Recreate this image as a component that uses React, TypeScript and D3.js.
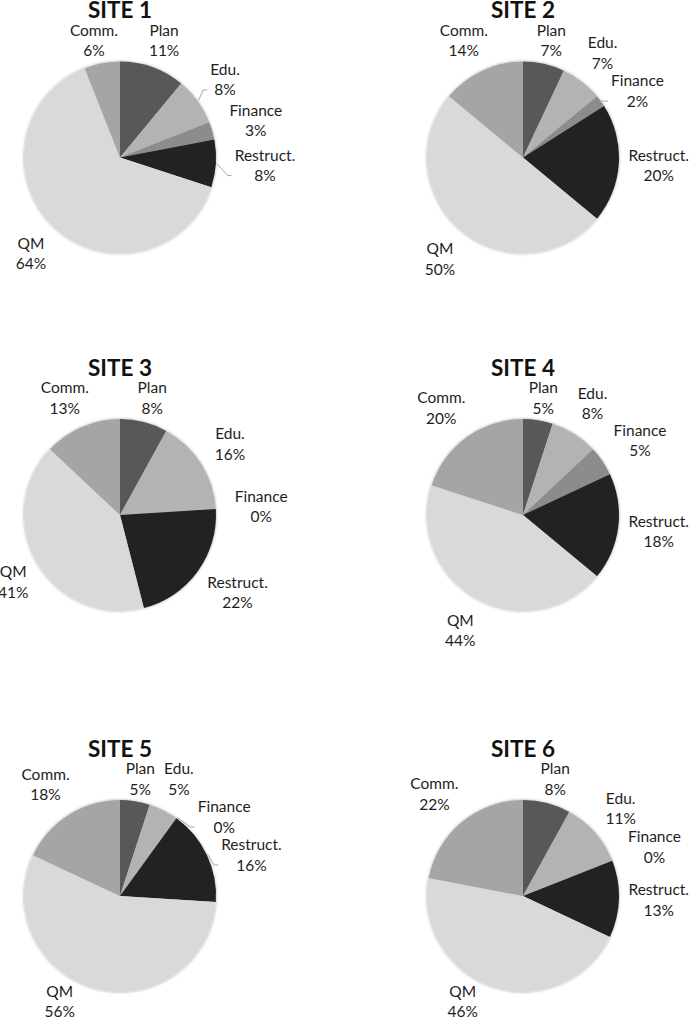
import * as d3 from "d3";

// categories in clockwise order starting at 12 o'clock
const categories = ["Plan", "Edu.", "Finance", "Restruct.", "QM", "Comm."];
const siteTitles = ["SITE 1", "SITE 2", "SITE 3", "SITE 4", "SITE 5", "SITE 6"];

const site1Values = [11, 8, 3, 8, 64, 6];
const site2Values = [7, 7, 2, 20, 50, 14];
const site3Values = [8, 16, 0, 22, 41, 13];
const site4Values = [5, 8, 5, 18, 44, 20];
const site5Values = [5, 5, 0, 16, 56, 18];
const site6Values = [8, 11, 0, 13, 46, 22];
const siteValues = [site1Values, site2Values, site3Values, site4Values, site5Values, site6Values];

// labels that Excel joined to their slice with a leader line
const leaderLabels = [["Edu.", "Restruct."], ["Finance"], [], [], ["Finance", "Restruct."], []];

const colors = ["#595959", "#b3b3b3", "#8c8c8c", "#212121", "#d9d9d9", "#a5a5a5"];

const W = 690;
const H = 1020;
const R = 96;
const GAP = 18;
const colX = [120, 523];
const rowY = [157.5, 515, 896];
const labelSize = 15.5;
const labelFont = `${labelSize}px Lato`;

const ctx = document.createElement("canvas").getContext("2d");
function textWidth(s: string) {
  if (!ctx) return s.length * 7.5;
  ctx.font = labelFont;
  return ctx.measureText(s).width;
}

type Box = { name: string; pct: string; x: number; y: number; w: number; h: number; ang: number };

function layoutLabels(arcs: d3.PieArcDatum<number>[], values: number[], cx0: number, cy0: number) {
  const placed: Box[] = [];
  arcs.forEach((a, i) => {
    const name = categories[i];
    const pct = `${values[i]}%`;
    const w = Math.max(textWidth(name), textWidth(pct)) + 2;
    const h = 36;
    const ang = (a.startAngle + a.endAngle) / 2;
    const sx = Math.sin(ang);
    const sy = -Math.cos(ang);
    let x = (R + GAP) * sx + (sx * w) / 2;
    let y = (R + GAP) * sy + (sy * h) / 2;

    // stay below the title
    y = Math.max(y, -135 + h / 2);

    // push away from labels already placed, in the clockwise direction
    for (let k = 0; k < 3; k++) {
      for (const p of placed) {
        const ox = Math.abs(x - p.x) < (w + p.w) / 2 + 2;
        const oy = Math.abs(y - p.y) < (h + p.h) / 2 + 1;
        if (ox && oy) {
          if (sx >= 0) y = p.y + (p.h + h) / 2 + 2;
          else y = p.y - (p.h + h) / 2 - 2;
        }
      }
    }

    // keep inside the page
    y = Math.min(y, H - cy0 - 18.5);
    x = Math.min(x, W - cx0 - w / 2);

    // keep clear of the pie
    const minD = R + 2;
    const nearY = y - h / 2 > 0 ? y - h / 2 : y + h / 2 < 0 ? y + h / 2 : 0;
    if (Math.abs(nearY) < minD) {
      const need = Math.sqrt(minD * minD - nearY * nearY);
      if (sx >= 0 && x - w / 2 < need) x = need + w / 2;
      if (sx < 0 && x + w / 2 > -need) x = -need - w / 2;
    }
    x = Math.max(x, -cx0 + w / 2 - 3);
    placed.push({ name, pct, x, y, w, h, ang });
  });
  return placed;
}

function SitePie({ index }: { index: number }) {
  const values = siteValues[index];
  const cx = colX[index % 2];
  const cy = rowY[Math.floor(index / 2)];
  const pie = d3.pie<number>().sort(null).value((d) => d);
  const arcs = pie(values);
  const arc = d3.arc<d3.PieArcDatum<number>>().innerRadius(0).outerRadius(R);
  const labels = layoutLabels(arcs, values, cx, cy);

  return (
    <g transform={`translate(${cx},${cy})`}>
      <text
        x={0}
        y={-139.5}
        textAnchor="middle"
        fontFamily="Lato"
        fontWeight={700}
        fontSize={22.5}
        fill="#111"
      >
        {siteTitles[index]}
      </text>
      <g filter="url(#pieShadow)">
        {arcs.map((a, i) => (
          <path key={i} d={arc(a) || ""} fill={colors[i]} />
        ))}
      </g>
      {labels.map((l) => {
        const leader = leaderLabels[index].includes(l.name);
        let leaderPath = "";
        if (leader) {
          const ex = (R + 1) * Math.sin(l.ang);
          const ey = -(R + 1) * Math.cos(l.ang);
          const side = l.x >= 0 ? 1 : -1;
          const tx = side > 0 ? l.x - l.w / 2 - 2 : l.x + l.w / 2 + 2;
          const ty = Math.max(l.y - l.h / 2 + 8, Math.min(l.y + l.h / 2 - 8, ey + 12));
          leaderPath = `M${ex},${ey}L${tx - side * 4},${ty}L${tx},${ty}`;
        }
        return (
          <g key={l.name}>
            {leader && <path d={leaderPath} fill="none" stroke="#a6a6a6" strokeWidth={1} />}
            <text textAnchor="middle" fontFamily="Lato" fontSize={labelSize} fill="#1e1e1e">
              <tspan x={l.x} y={l.y - 5}>
                {l.name}
              </tspan>
              <tspan x={l.x} y={l.y + 15.5}>
                {l.pct}
              </tspan>
            </text>
          </g>
        );
      })}
    </g>
  );
}

export default function App() {
  return (
    <svg
      width={W}
      height={H}
      viewBox={`0 0 ${W} ${H}`}
      style={{ position: "absolute", left: 0, top: 0, background: "#fff" }}
    >
      <defs>
        <filter id="pieShadow" x="-20%" y="-20%" width="140%" height="140%">
          <feDropShadow dx="0" dy="0" stdDeviation="1.6" floodColor="#000" floodOpacity="0.35" />
        </filter>
      </defs>
      <rect width={W} height={H} fill="#fff" />
      {siteValues.map((_, i) => (
        <SitePie key={i} index={i} />
      ))}
    </svg>
  );
}
